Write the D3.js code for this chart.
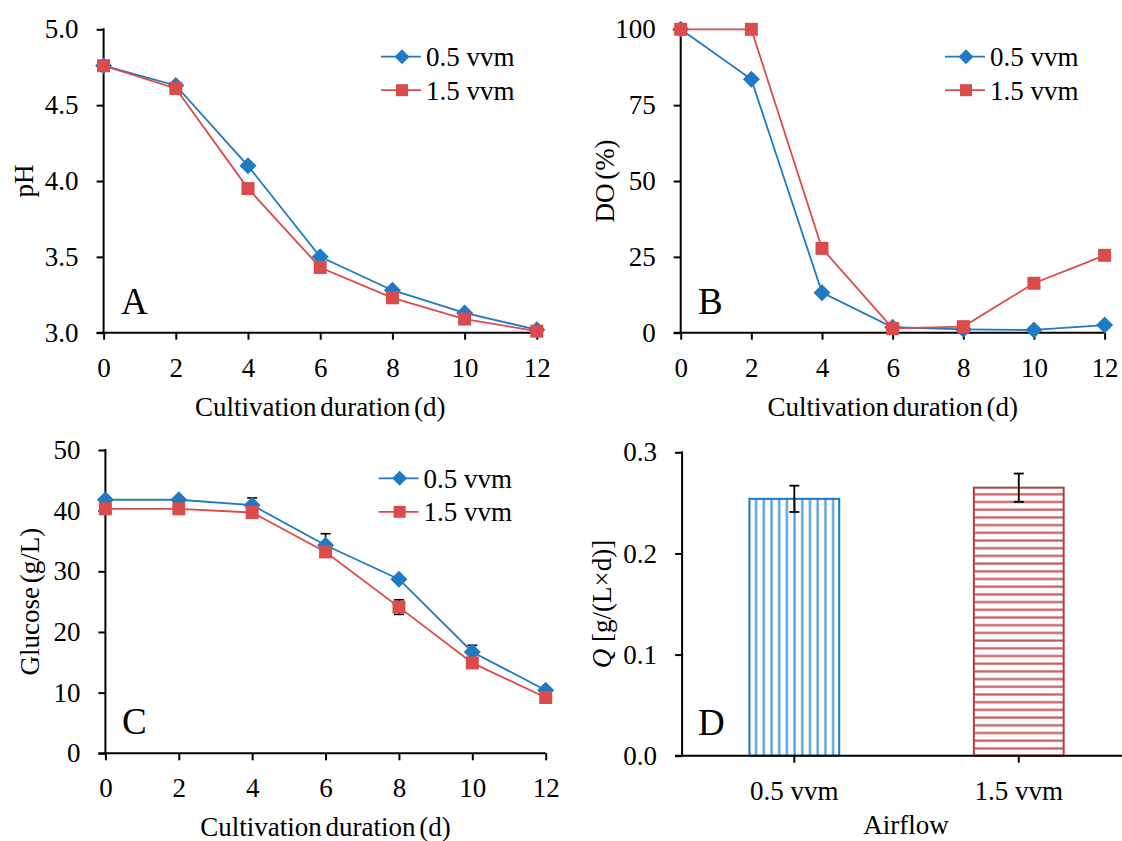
<!DOCTYPE html>
<html>
<head>
<meta charset="utf-8">
<script src="https://cdn.jsdelivr.net/npm/d3@7"></script>
<style>
  body { margin: 0; background: white; }
  svg text { font-family: "Times New Roman", "Liberation Serif", serif; fill: black; }
</style>
</head>
<body>
<div id="chart"></div>
<script>
const width = 1122
const height = 841

// data
const days = [0, 2, 4, 6, 8, 10, 12]
const seriesNames = ["0.5 vvm", "1.5 vvm"]

const ph05 = [4.76, 4.63, 4.10, 3.50, 3.28, 3.13, 3.02]
const ph15 = [4.76, 4.61, 3.95, 3.43, 3.23, 3.09, 3.01]

const do05 = [100, 83.5, 13.2, 1.8, 1.1, 0.9, 2.5]
const do15 = [100, 100, 27.8, 1.4, 2.0, 16.3, 25.5]

const glc05 = [41.8, 41.8, 40.9, 34.3, 28.7, 16.7, 10.4]
const glc15 = [40.3, 40.3, 39.7, 33.2, 24.1, 14.9, 9.2]
const glc05Err = [0.3, 0.3, 1.2, 1.9, 0.4, 1.1, 0.3]
const glc15Err = [0.3, 0.3, 0.4, 0.4, 1.2, 0.4, 0.3]

const airflow = ["0.5 vvm", "1.5 vvm"]
const qValues = [0.254, 0.265]
const qErr = [0.013, 0.014]

const phTicks = [3.0, 3.5, 4.0, 4.5, 5.0]
const doTicks = [0, 25, 50, 75, 100]
const glcTicks = [0, 10, 20, 30, 40, 50]
const qTicks = [0.0, 0.1, 0.2, 0.3]

const blue = "#2079c2"
const red = "#dc4b4b"
const fontSize = 27

const svg = d3.select("#chart").append("svg")
    .attr("width", width)
    .attr("height", height)

const defs = svg.append("defs")

const vPat = defs.append("pattern")
    .attr("id", "vlines")
    .attr("patternUnits", "userSpaceOnUse")
    .attr("width", 7.7).attr("height", 10)
vPat.append("rect").attr("width", 7.7).attr("height", 10).attr("fill", "white")
vPat.append("line").attr("x1", 1.5).attr("x2", 1.5).attr("y1", 0).attr("y2", 10)
    .attr("stroke", "#4f9bd8").attr("stroke-width", 2.2)

const hPat = defs.append("pattern")
    .attr("id", "hlines")
    .attr("patternUnits", "userSpaceOnUse")
    .attr("width", 10).attr("height", 7.7)
hPat.append("rect").attr("width", 10).attr("height", 7.7).attr("fill", "white")
hPat.append("line").attr("x1", 0).attr("x2", 10).attr("y1", 1.5).attr("y2", 1.5)
    .attr("stroke", "#c85a5a").attr("stroke-width", 2.2)

const diamond = "M0,-8.5L8.5,0L0,8.5L-8.5,0Z"
const diamondSmall = "M0,-7.5L7.5,0L0,7.5L-7.5,0Z"

function lineSeries(g, x, y, vals, errs, color, shape) {
    const pts = days.map((d, i) => ({ d: d, v: vals[i], e: errs ? errs[i] : 0 }))
    if (errs) {
        const eb = g.append("g")
        pts.forEach(p => {
            eb.append("line")
                .attr("x1", x(p.d)).attr("x2", x(p.d))
                .attr("y1", y(p.v - p.e)).attr("y2", y(p.v + p.e))
                .attr("stroke", "black").attr("stroke-width", 1.6)
            ;[p.v - p.e, p.v + p.e].forEach(v => {
                eb.append("line")
                    .attr("x1", x(p.d) - 5).attr("x2", x(p.d) + 5)
                    .attr("y1", y(v)).attr("y2", y(v))
                    .attr("stroke", "black").attr("stroke-width", 1.6)
            })
        })
    }
    g.append("path")
        .datum(pts)
        .attr("fill", "none")
        .attr("stroke", color)
        .attr("stroke-width", 1.8)
        .attr("d", d3.line().x(p => x(p.d)).y(p => y(p.v)))
    if (shape === "diamond") {
        g.selectAll(null).data(pts).join("path")
            .attr("d", diamond)
            .attr("transform", p => `translate(${x(p.d)},${y(p.v)})`)
            .attr("fill", color)
    } else {
        g.selectAll(null).data(pts).join("rect")
            .attr("x", p => x(p.d) - 6.5).attr("y", p => y(p.v) - 6.5)
            .attr("width", 13).attr("height", 13)
            .attr("fill", color)
    }
}

function legend(g, lx, ly) {
    // lx = left of line sample, ly = first row y
    const rows = [[blue, "diamond"], [red, "square"]]
    rows.forEach((r, i) => {
        const yy = ly + i * 33.5
        g.append("line")
            .attr("x1", lx).attr("x2", lx + 40)
            .attr("y1", yy).attr("y2", yy)
            .attr("stroke", r[0]).attr("stroke-width", 1.8)
        if (r[1] === "diamond") {
            g.append("path").attr("d", diamondSmall)
                .attr("transform", `translate(${lx + 21},${yy})`)
                .attr("fill", r[0])
        } else {
            g.append("rect").attr("x", lx + 21 - 6).attr("y", yy - 6)
                .attr("width", 12).attr("height", 12).attr("fill", r[0])
        }
        g.append("text")
            .attr("x", lx + 45).attr("y", yy + 9.5)
            .attr("font-size", fontSize)
            .text(seriesNames[i])
    })
}

function axes(g, x, y, yTicks, yFmt, xTitle, yTitle, yTitleX, letter, letterX) {
    const x0 = x.range()[0], x1 = x.range()[1]
    const y0 = y.range()[0], y1 = y.range()[1]

    const ya = g.append("g")
        .attr("transform", `translate(${x0},0)`)
        .call(d3.axisLeft(y).tickValues(yTicks).tickFormat(yFmt).tickSizeOuter(0).tickSize(7).tickPadding(18))
    ya.select(".domain").remove()
    ya.append("line").attr("x1", 0).attr("x2", 0).attr("y1", y0 + 1).attr("y2", y1 - 1)
        .attr("stroke", "black").attr("stroke-width", 2)

    const xa = g.append("g")
        .attr("transform", `translate(0,${y0})`)
        .call(d3.axisBottom(x).tickValues(days).tickSizeOuter(0).tickSize(7).tickPadding(18))
    xa.select(".domain").remove()
    xa.append("line").attr("x1", x0 - 7).attr("x2", x1).attr("y1", 0).attr("y2", 0)
        .attr("stroke", "black").attr("stroke-width", 2)

    g.selectAll(".tick line").attr("stroke", "black").attr("stroke-width", 2)
    g.selectAll(".tick text").attr("font-size", fontSize)
        .attr("font-family", "Times New Roman, Liberation Serif, serif").attr("fill", "black")

    g.append("text")
        .attr("x", (x0 + x1) / 2).attr("y", y0 + 83)
        .attr("text-anchor", "middle").attr("font-size", fontSize)
        .attr("word-spacing", -3)
        .text(xTitle)

    g.append("text")
        .attr("transform", `translate(${yTitleX},${(y0 + y1) / 2}) rotate(-90)`)
        .attr("text-anchor", "middle").attr("font-size", fontSize)
        .attr("word-spacing", -3)
        .text(yTitle)

    g.append("text")
        .attr("x", letterX).attr("y", y0 - 19)
        .attr("font-size", 37)
        .text(letter)
}

// Panel A - pH
const xA = d3.scaleLinear().domain([0, 12]).range([103.6, 536.8])
const yA = d3.scaleLinear().domain([3, 5]).range([332.7, 29.3])
const gA = svg.append("g")
axes(gA, xA, yA, phTicks, d3.format(".1f"), "Cultivation duration (d)", "pH", 33, "A", 121)
lineSeries(gA, xA, yA, ph05, null, blue, "diamond")
lineSeries(gA, xA, yA, ph15, null, red, "square")
legend(gA, 381, 56.7)

// Panel B - DO
const xB = d3.scaleLinear().domain([0, 12]).range([680.7, 1104.6])
const yB = d3.scaleLinear().domain([0, 100]).range([332.7, 29.3])
const gB = svg.append("g")
axes(gB, xB, yB, doTicks, d3.format("d"), "Cultivation duration (d)", "DO (%)", 614, "B", 698)
lineSeries(gB, xB, yB, do05, null, blue, "diamond")
lineSeries(gB, xB, yB, do15, null, red, "square")
legend(gB, 945, 56.7)

// Panel C - glucose
const xC = d3.scaleLinear().domain([0, 12]).range([105.4, 545.7])
const yC = d3.scaleLinear().domain([0, 50]).range([753.3, 450])
const gC = svg.append("g")
axes(gC, xC, yC, glcTicks, d3.format("d"), "Cultivation duration (d)", "Glucose (g/L)", 39, "C", 122)
lineSeries(gC, xC, yC, glc05, glc05Err, blue, "diamond")
lineSeries(gC, xC, yC, glc15, glc15Err, red, "square")
legend(gC, 378.6, 478.3)

// Panel D - productivity bars
const xD = d3.scaleBand().domain(airflow).range([682.1, 1131]).paddingInner(0).paddingOuter(0)
const yD = d3.scaleLinear().domain([0, 0.3]).range([755.7, 452.3])
const gD = svg.append("g")

const yaD = gD.append("g")
    .attr("transform", `translate(682.1,0)`)
    .call(d3.axisLeft(yD).tickValues(qTicks).tickFormat(d3.format(".1f")).tickSizeOuter(0).tickSize(7).tickPadding(18))
yaD.select(".domain").remove()
yaD.append("line").attr("x1", 0).attr("x2", 0).attr("y1", 756.7).attr("y2", 451.3)
    .attr("stroke", "black").attr("stroke-width", 2)

const barW = xD.bandwidth() * 0.4
const fills = ["url(#vlines)", "url(#hlines)"]
const borders = ["#1a77c9", "#b73d3d"]
gD.selectAll(".bar")
    .data(airflow)
    .join("rect")
    .attr("class", "bar")
    .attr("x", d => xD(d) + xD.bandwidth() / 2 - barW / 2)
    .attr("y", (d, i) => yD(qValues[i]))
    .attr("width", barW)
    .attr("height", (d, i) => yD(0) - yD(qValues[i]))
    .attr("fill", (d, i) => fills[i])
    .attr("stroke", (d, i) => borders[i])
    .attr("stroke-width", 2)

airflow.forEach((d, i) => {
    const cx = xD(d) + xD.bandwidth() / 2
    const lo = yD(qValues[i] - qErr[i]), hi = yD(qValues[i] + qErr[i])
    gD.append("line").attr("x1", cx).attr("x2", cx).attr("y1", lo).attr("y2", hi)
        .attr("stroke", "black").attr("stroke-width", 1.8)
    ;[lo, hi].forEach(v => gD.append("line").attr("x1", cx - 5).attr("x2", cx + 5)
        .attr("y1", v).attr("y2", v).attr("stroke", "black").attr("stroke-width", 1.8))
})

const xaD = gD.append("g")
    .attr("transform", `translate(0,755.7)`)
    .call(d3.axisBottom(xD).tickSizeOuter(0).tickSize(7).tickPadding(18))
xaD.select(".domain").remove()
xaD.append("line").attr("x1", 675).attr("x2", width).attr("y1", 0).attr("y2", 0)
    .attr("stroke", "black").attr("stroke-width", 2)

gD.selectAll(".tick line").attr("stroke", "black").attr("stroke-width", 2)
gD.selectAll(".tick text").attr("font-size", fontSize)
    .attr("font-family", "Times New Roman, Liberation Serif, serif").attr("fill", "black")

gD.append("text")
    .attr("x", 906).attr("y", 834)
    .attr("text-anchor", "middle").attr("font-size", fontSize)
    .text("Airflow")

const qLabel = gD.append("text")
    .attr("transform", `translate(611,604) rotate(-90)`)
    .attr("text-anchor", "middle").attr("font-size", fontSize)
qLabel.append("tspan").attr("font-style", "italic").text("Q")
qLabel.append("tspan").text(" [g/(L×d)]")

gD.append("text")
    .attr("x", 698).attr("y", 735)
    .attr("font-size", 37)
    .text("D")
</script>
</body>
</html>
